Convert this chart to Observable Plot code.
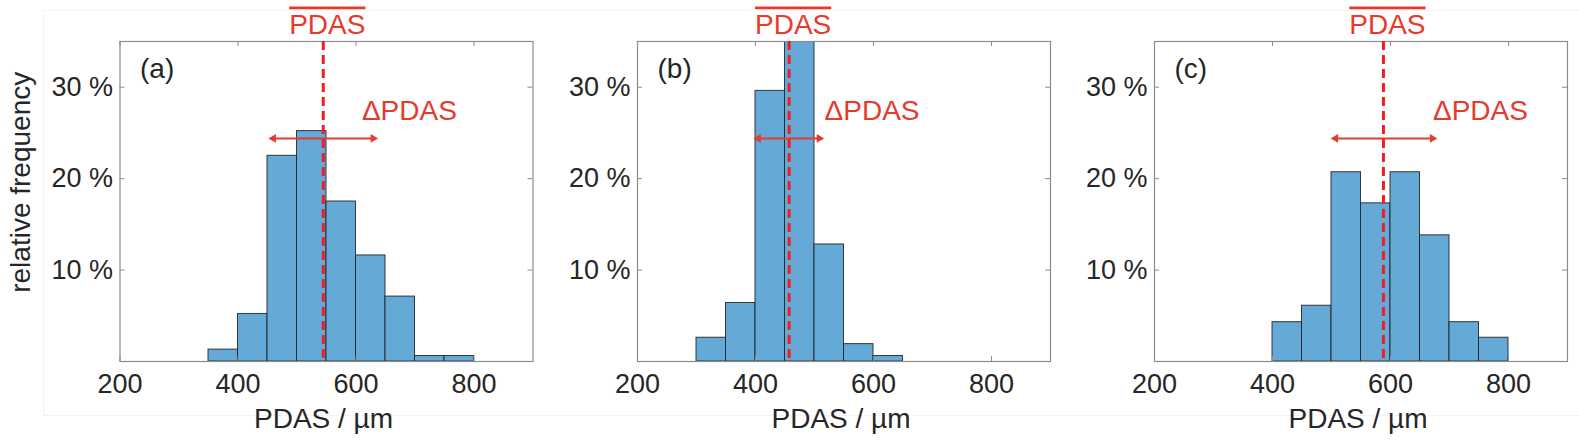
<!DOCTYPE html>
<html>
<head>
<meta charset="utf-8">
<script src="https://cdn.jsdelivr.net/npm/d3@7"></script>
<script src="https://cdn.jsdelivr.net/npm/@observablehq/plot@0.6"></script>
<style>
  body { margin: 0; background: #fff; }
  #fig { position: relative; width: 1579px; height: 441px; overflow: hidden; background: #fff;
         font-family: "Liberation Sans", Arial, sans-serif; }
  #fig svg { position: absolute; top: 0; background: transparent !important; }
  #box { position: absolute; left: 43px; top: 10px; width: 1545px; height: 404px; border: 1px solid #f3f3f3; }
</style>
</head>
<body>
<div id="fig"><div id="box"></div></div>
<script>
// ---- data ----
const xTicks = [200, 400, 600, 800];
const yTicks = [10, 20, 30];
const xDomain = [200, 900];
const yDomain = [0, 35];

const panelTags = ["(a)", "(b)", "(c)"];

// bin edges (µm) and relative frequencies (%)
const edgesA = [350, 400, 450, 500, 550, 600, 650, 700, 750, 800];
const freqA  = [1.3, 5.2, 22.5, 25.2, 17.5, 11.6, 7.1, 0.6, 0.6];
const edgesB = [300, 350, 400, 450, 500, 550, 600, 650];
const freqB  = [2.6, 6.4, 29.6, 38, 12.8, 1.9, 0.6];
const edgesC = [400, 450, 500, 550, 600, 650, 700, 750, 800];
const freqC  = [4.3, 6.1, 20.7, 17.3, 20.7, 13.8, 4.3, 2.6];

// mean PDAS and spread (arrow ends), µm
const means   = [544.5, 457, 588];
const spreadLo = [460, 405, 507];
const spreadHi = [629, 508, 671];
const deltaLabelX = [610, 517, 672];
const arrowLevel = 24.4;      // %
const deltaLabelLevel = 26.4; // %

const meanLabel = "PDAS";
const deltaLabel = "ΔPDAS";
const xTitle = "PDAS / µm";
const yTitle = "relative frequency";
const yTitleLevel = 19.6;

// ---- drawing ----
const red = "#e63a2e";
const dashRed = "#f21c24";
const frameGray = "#8c8c8c";
const ink = "#262626";
const FONT = '"Liberation Sans", Arial, sans-serif';

const layout = [
  {left: 0,    marginLeft: 119.5, marginRight: 10},
  {left: 537,  marginLeft: 100,   marginRight: 10},
  {left: 1054, marginLeft: 100,   marginRight: 11.5}
];
const FW = 413, MT = 41, MB = 80, H = 441, FH = H - MT - MB;

const edges = [edgesA, edgesB, edgesC];
const freqs = [freqA, freqB, freqC];

const fig = document.getElementById("fig");

for (let p = 0; p < 3; p++) {
  const bins = freqs[p].map((f, i) => ({x1: edges[p][i], x2: edges[p][i + 1], f}));
  const mean = means[p];
  const spread = [{lo: spreadLo[p], hi: spreadHi[p], m: mean}];
  const heads = [{x: spreadLo[p], r: -90}, {x: spreadHi[p], r: 90}];
  const L = layout[p];
  const marks = [
    Plot.rectY(bins, {x1: "x1", x2: "x2", y: "f", fill: "#65a9d7", stroke: "#1c1c1c", strokeWidth: 1, strokeOpacity: 0.85, clip: true}),
    Plot.tickY(yTicks, {y: d => d, stroke: frameGray, insetRight: FW - 5}),
    Plot.tickY(yTicks, {y: d => d, stroke: frameGray, insetLeft: FW - 5}),
    Plot.tickX(xTicks, {x: d => d, stroke: frameGray, insetTop: FH - 5}),
    Plot.tickX(xTicks, {x: d => d, stroke: frameGray, insetBottom: FH - 5}),
    Plot.frame({stroke: frameGray, strokeWidth: 1.2}),
    Plot.axisY(yTicks, {tickSize: 0, tickPadding: 7, tickFormat: d => d + " %", fontSize: 27, label: null, fill: ink}),
    Plot.axisX(xTicks, {tickSize: 0, tickPadding: 12, fontSize: 27, label: null, fill: ink}),
    Plot.ruleX([mean], {x: d => d, stroke: dashRed, strokeWidth: 3, strokeDasharray: "9,5"}),
    Plot.link(spread, {x1: "lo", x2: "hi", y1: () => arrowLevel, y2: () => arrowLevel, stroke: red, strokeWidth: 2}),
    Plot.dot(heads, {x: "x", y: () => arrowLevel, symbol: "triangle", rotate: "r", r: 3.2, fill: red, stroke: null}),
    Plot.text([deltaLabel], {x: () => deltaLabelX[p], y: () => deltaLabelLevel, text: d => d, textAnchor: "start", lineAnchor: "bottom", fill: red, fontSize: 28}),
    Plot.text([meanLabel], {x: () => mean, text: d => d, frameAnchor: "top", dy: -8, dx: 4, lineAnchor: "bottom", fill: red, fontSize: 28}),
    Plot.text([panelTags[p]], {text: d => d, frameAnchor: "top-left", dx: 20, dy: 36, lineAnchor: "bottom", textAnchor: "start", fill: ink, fontSize: 28}),
    Plot.text([xTitle], {text: d => d, frameAnchor: "bottom", dx: -3, dy: 66, lineAnchor: "bottom", fill: ink, fontSize: 28})
  ];
  if (p === 0) {
    marks.push(Plot.text([yTitle], {text: d => d, y: () => yTitleLevel, frameAnchor: "left", dx: -90, rotate: -90, textAnchor: "middle", lineAnchor: "bottom", fill: ink, fontSize: 28}));
  }
  const svg = Plot.plot({
    width: L.marginLeft + FW + L.marginRight,
    height: H,
    marginLeft: L.marginLeft,
    marginRight: L.marginRight,
    marginTop: MT,
    marginBottom: MB,
    x: {domain: xDomain, label: null},
    y: {domain: yDomain, label: null},
    style: {fontFamily: FONT, fontSize: "27px", color: ink, background: "transparent", overflow: "visible"},
    marks
  });
  svg.style.left = L.left + "px";
  svg.querySelectorAll("text").forEach(t => {
    if (t.textContent === meanLabel) t.style.textDecoration = "overline";
  });
  fig.appendChild(svg);
}
</script>
</body>
</html>
